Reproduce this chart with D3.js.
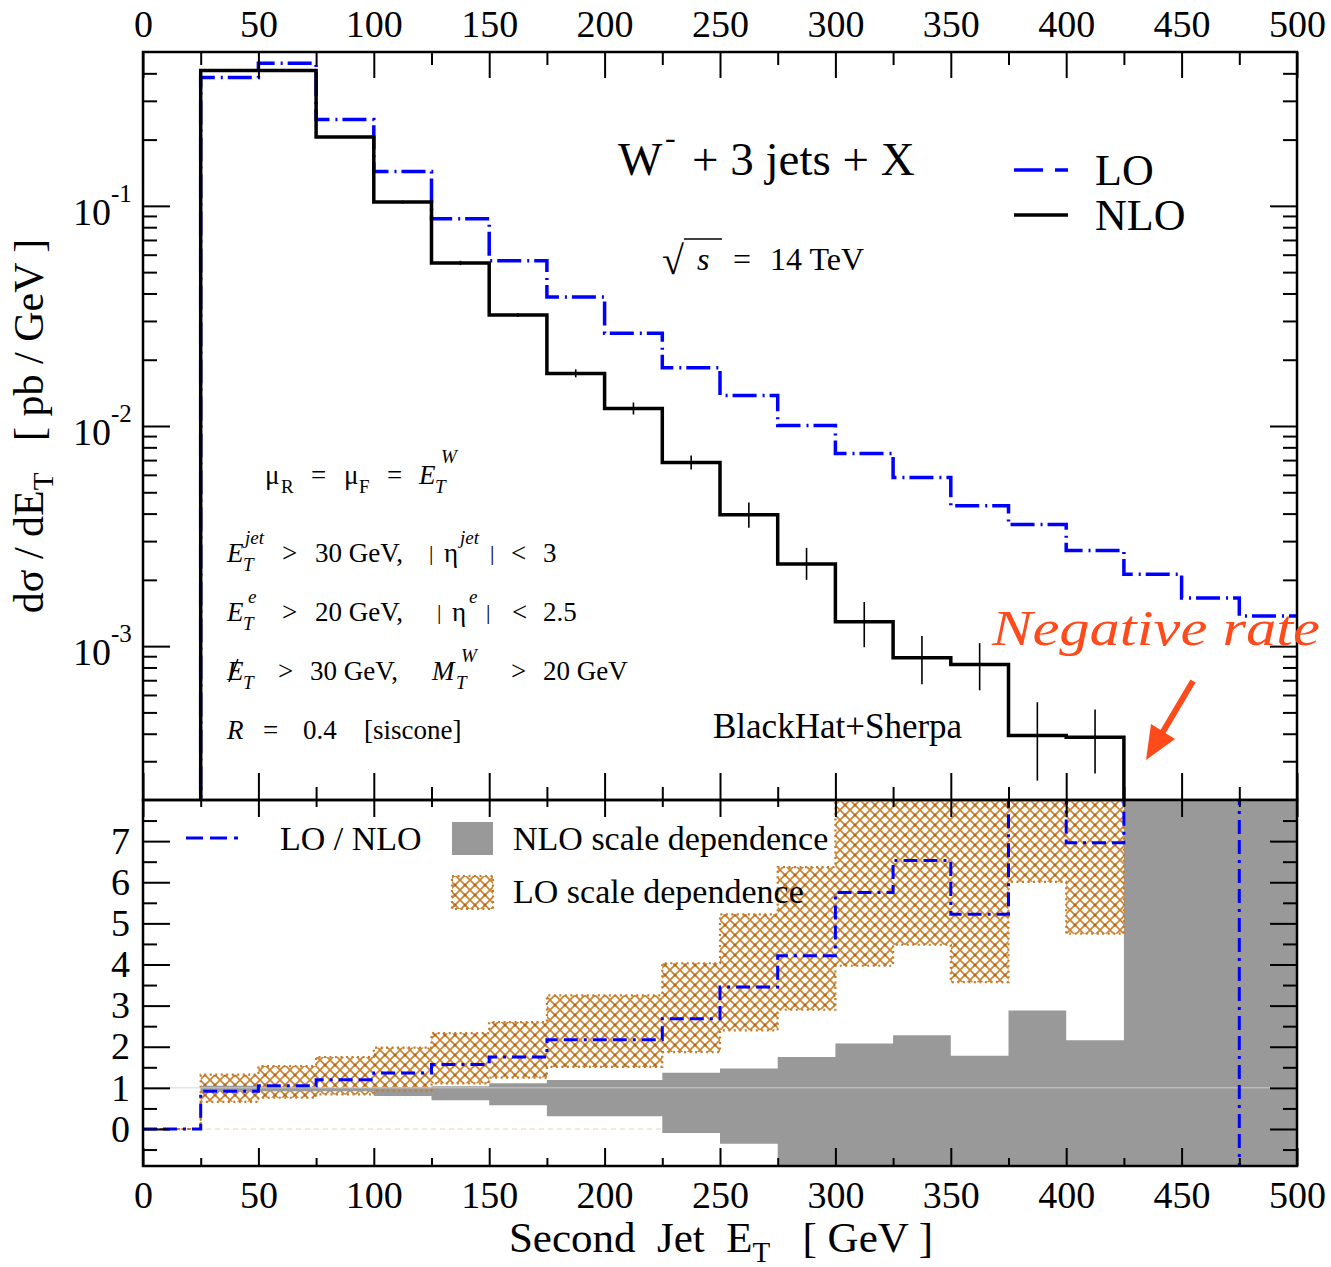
<!DOCTYPE html>
<html>
<head>
<meta charset="utf-8">
<script src="https://cdn.jsdelivr.net/npm/d3@7"></script>
<style>
body { margin: 0; background: #fff; }
svg text { font-family: "Liberation Serif", "Times New Roman", serif; fill: #000; white-space: pre; }
</style>
</head>
<body>
<svg id="chart" width="1331" height="1267"></svg>
<script>

// bin edges of the second jet ET histogram (GeV)
var binEdges = [0, 25, 50, 75, 100, 125, 150, 175, 200, 225, 250, 275, 300, 325, 350, 375, 400, 425, 450, 475, 500];

// dsigma/dET [pb/GeV], one value per bin, null = nothing drawn (zero or negative)
var nloRate = [null, 0.412, 0.412, 0.2056, 0.104, 0.0550, 0.0319, 0.01734, 0.0120, 0.00682, 0.00395,
               0.00236, 0.00129, 0.000885, 0.000825, 0.000393, 0.000386, null, null, null];
var nloErrLow  = [null, null, null, null, 0.1025, 0.0538, 0.0313, 0.01663, 0.01128, 0.00634, 0.00345,
                  0.00200, 0.000989, 0.000671, 0.000630, 0.000245, 0.000264, null, null, null];
var nloErrHigh = [null, null, null, null, 0.1056, 0.0563, 0.0325, 0.01809, 0.01280, 0.00734, 0.00449,
                  0.002795, 0.001587, 0.001111, 0.001032, 0.000556, 0.000516, null, null, null];
var loRate = [null, 0.383, 0.444, 0.2466, 0.1432, 0.0873, 0.0563, 0.0385, 0.0264, 0.0184, 0.01377,
              0.01005, 0.0075, 0.00583, 0.00434, 0.00357, 0.00272, 0.00212, 0.001655, 0.00137];

// lower panel: LO / NLO and the scale dependence bands (off-scale bins estimated past the frame)
var ratioLoNlo  = [0, 0.92, 1.05, 1.20, 1.36, 1.57, 1.75, 2.17, 2.17, 2.68, 3.45, 4.21, 5.75, 6.53, 5.22, 9.1, 6.96, 12, 12, -12];
var nloBandLow  = [0, 0.92, 0.92, 0.92, 0.80, 0.70, 0.58, 0.31, 0.31, -0.10, -0.36, -2, -2, -2, -2, -2, -2, -20, -20, -20];
var nloBandHigh = [0, 1.05, 1.03, 1.00, 1.02, 1.04, 1.11, 1.19, 1.19, 1.37, 1.47, 1.75, 2.08, 2.28, 1.78, 2.88, 2.16, 20, 20, 20];
var loBandLow   = [0, 0.66, 0.76, 0.84, 0.93, 1.11, 1.25, 1.51, 1.51, 1.87, 2.40, 2.90, 3.97, 4.48, 3.57, 6.01, 4.75, null, null, null];
var loBandHigh  = [0, 1.32, 1.53, 1.75, 1.98, 2.33, 2.60, 3.25, 3.25, 4.03, 5.22, 6.37, 9, 9, 9, 9, 9, null, null, null];

var xMajorTicks = [0, 50, 100, 150, 200, 250, 300, 350, 400, 450, 500];
var xMinorTicks = [25, 75, 125, 175, 225, 275, 325, 375, 425, 475];
var yDecades = [0.001, 0.01, 0.1];
var yMinorTicks = [0.0003, 0.0004, 0.0005, 0.0006, 0.0007, 0.0008, 0.0009,
                   0.002, 0.003, 0.004, 0.005, 0.006, 0.007, 0.008, 0.009,
                   0.02, 0.03, 0.04, 0.05, 0.06, 0.07, 0.08, 0.09,
                   0.2, 0.3, 0.4];
var ratioTicks = [0, 1, 2, 3, 4, 5, 6, 7];
var ratioMinorTicks = [-0.5, 0.5, 1.5, 2.5, 3.5, 4.5, 5.5, 6.5, 7.5];

var FLOOR = 1e-5;
var L = 143, R = 1297, T1 = 52, B1 = 800, B2 = 1166;

var svg = d3.select('#chart');
var defs = svg.append('defs');

var x = d3.scaleLinear().domain([0, 500]).range([L, R]);
var yTop = d3.scaleLog().domain([2e-4, 0.5]).range([B1, T1]);
var yBot = d3.scaleLinear().domain([-0.9, 8]).range([B2, B1]);

defs.append('clipPath').attr('id', 'clipTop')
  .append('rect').attr('x', L).attr('y', T1).attr('width', R - L).attr('height', B1 - T1);
defs.append('clipPath').attr('id', 'clipBot')
  .append('rect').attr('x', L).attr('y', B1).attr('width', R - L).attr('height', B2 - B1);

// cross hatch for LO scale band
var pat = defs.append('pattern').attr('id', 'loHatch')
  .attr('patternUnits', 'userSpaceOnUse').attr('width', 10).attr('height', 10);
pat.append('path').attr('d', 'M-1,-1L11,11M11,-1L-1,11')
  .attr('stroke', '#cc8331').attr('stroke-width', 1.7);
pat.append('circle').attr('cx', 5).attr('cy', 5).attr('r', 1.5).attr('fill', '#b5671a');

function stepSeries(values) {
  var pts = [], started = false;
  values.forEach(function(v, i) {
    if (v == null) {
      if (started) { pts.push([binEdges[i], FLOOR]); started = false; }
      return;
    }
    if (!started) { pts.push([binEdges[i], FLOOR]); started = true; }
    pts.push([binEdges[i], v]);
  });
  if (started) pts.push([binEdges[values.length], values[values.length - 1]]);
  return pts;
}

function bandSeries(lo, hi) {
  var pts = [];
  lo.forEach(function(v, i) { pts.push([binEdges[i], v, hi[i]]); });
  var last = lo.length - 1;
  while (last >= 0 && lo[last] == null) last--;
  pts.splice(last + 1, 0, [binEdges[last + 1], lo[last], hi[last]]);
  return pts;
}

// ---------------- top panel ----------------
var topG = svg.append('g');
var topPlot = topG.append('g').attr('clip-path', 'url(#clipTop)');

var lineTop = d3.line()
  .x(function(d) { return x(d[0]); })
  .y(function(d) { return yTop(d[1]); })
  .curve(d3.curveStepAfter);

topPlot.append('path').datum(stepSeries(loRate))
  .attr('d', lineTop).attr('fill', 'none')
  .attr('stroke', '#0000ff').attr('stroke-width', 3.5)
  .attr('stroke-dasharray', '24,6,2,5');

topPlot.append('path').datum(stepSeries(nloRate))
  .attr('d', lineTop).attr('fill', 'none')
  .attr('stroke', '#000').attr('stroke-width', 3.5);

var errData = [];
nloErrLow.forEach(function(v, i) {
  if (v != null) errData.push({ c: (binEdges[i] + binEdges[i + 1]) / 2, lo: v, hi: nloErrHigh[i] });
});
topPlot.selectAll('line.err').data(errData).enter().append('line')
  .attr('class', 'err')
  .attr('x1', function(d) { return x(d.c); }).attr('x2', function(d) { return x(d.c); })
  .attr('y1', function(d) { return yTop(d.lo); }).attr('y2', function(d) { return yTop(d.hi); })
  .attr('stroke', '#000').attr('stroke-width', 1.6);

function tickAxis(g, axis) {
  g.call(axis);
  g.select('.domain').remove();
  g.selectAll('.tick line').attr('stroke', '#000').attr('stroke-width', 2);
  g.selectAll('.tick text').attr('font-size', 38).attr('font-family', '"Liberation Serif", serif').attr('fill', '#000');
}

tickAxis(topG.append('g').attr('transform', 'translate(0,' + T1 + ')'),
  d3.axisTop(x).tickValues(xMajorTicks).tickSize(-26).tickPadding(15).tickFormat(d3.format('d')));
tickAxis(topG.append('g').attr('transform', 'translate(0,' + T1 + ')'),
  d3.axisTop(x).tickValues(xMinorTicks).tickSize(-13).tickFormat(''));
tickAxis(topG.append('g').attr('transform', 'translate(0,' + B1 + ')'),
  d3.axisBottom(x).tickValues(xMajorTicks).tickSize(-27).tickFormat(''));
tickAxis(topG.append('g').attr('transform', 'translate(0,' + B1 + ')'),
  d3.axisBottom(x).tickValues(xMinorTicks).tickSize(-13).tickFormat(''));
tickAxis(topG.append('g').attr('transform', 'translate(' + L + ',0)'),
  d3.axisLeft(yTop).tickValues(yDecades).tickSize(-27).tickFormat(''));
tickAxis(topG.append('g').attr('transform', 'translate(' + L + ',0)'),
  d3.axisLeft(yTop).tickValues(yMinorTicks).tickSize(-14).tickFormat(''));
tickAxis(topG.append('g').attr('transform', 'translate(' + R + ',0)'),
  d3.axisRight(yTop).tickValues(yDecades).tickSize(-27).tickFormat(''));
tickAxis(topG.append('g').attr('transform', 'translate(' + R + ',0)'),
  d3.axisRight(yTop).tickValues(yMinorTicks).tickSize(-14).tickFormat(''));

var decLab = topG.selectAll('g.declab').data(yDecades).enter().append('g').attr('class', 'declab');
decLab.append('text').attr('x', 111).attr('y', function(d) { return yTop(d) + 19; })
  .attr('text-anchor', 'end').attr('font-size', 38).text('10');
decLab.append('text').attr('x', 111).attr('y', function(d) { return yTop(d) - 4; })
  .attr('font-size', 25).text(function(d) { return '-' + Math.round(-Math.log10(d)); });

topG.append('rect').attr('x', L).attr('y', T1).attr('width', R - L).attr('height', B1 - T1)
  .attr('fill', 'none').attr('stroke', '#000').attr('stroke-width', 2.5);

// y title
var yt = svg.append('text').attr('transform', 'translate(43,426) rotate(-90)')
  .attr('text-anchor', 'middle').attr('font-size', 42);
yt.append('tspan').text('dσ / dE');
yt.append('tspan').attr('font-size', 29).attr('dy', 10).text('T');
yt.append('tspan').attr('dy', -10).text('   [ pb / GeV ]');

// annotations
function txt(xp, yp, s, size, italic) {
  return svg.append('text').attr('x', xp).attr('y', yp).attr('font-size', size)
    .attr('font-style', italic ? 'italic' : 'normal').text(s);
}

txt(618, 175, 'W', 47);
txt(665, 148, '-', 32);
txt(692, 175, '+ 3 jets + X', 47);

txt(662, 274, '√', 40);
svg.append('line').attr('x1', 684).attr('x2', 722).attr('y1', 239).attr('y2', 239)
  .attr('stroke', '#000').attr('stroke-width', 1.6);
txt(697, 270, 's', 32, true);
txt(733, 270, '=', 32);
txt(770, 270, '14 TeV', 32);

// legend top
svg.append('line').attr('x1', 1014).attr('x2', 1068).attr('y1', 170).attr('y2', 170)
  .attr('stroke', '#0000ff').attr('stroke-width', 3.5).attr('stroke-dasharray', '29,12');
svg.append('line').attr('x1', 1014).attr('x2', 1068).attr('y1', 215).attr('y2', 215)
  .attr('stroke', '#000').attr('stroke-width', 3.5);
txt(1095, 185, 'LO', 44);
txt(1095, 230, 'NLO', 44);

var fs = 27, ss = 19;
// mu_R = mu_F = E_T^W
txt(265, 484, 'μ', fs); txt(281, 493, 'R', ss);
txt(311, 484, '=', fs);
txt(344, 484, 'μ', fs); txt(359, 493, 'F', ss);
txt(387, 484, '=', fs);
txt(419, 484, 'E', fs, true); txt(435, 493, 'T', ss, true); txt(441, 463, 'W', ss, true);
// jet cuts
txt(227, 562, 'E', fs, true); txt(243, 571, 'T', ss, true); txt(245, 544, 'jet', ss, true);
txt(282, 562, '>', fs); txt(315, 562, '30 GeV,', fs);
txt(429, 560, '|', 22); txt(444, 562, 'η', fs); txt(460, 544, 'jet', ss, true);
txt(490, 560, '|', 22); txt(511, 562, '<', fs); txt(543, 562, '3', fs);
// electron cuts
txt(227, 621, 'E', fs, true); txt(243, 630, 'T', ss, true); txt(248, 603, 'e', ss, true);
txt(282, 621, '>', fs); txt(315, 621, '20 GeV,', fs);
txt(437, 619, '|', 22); txt(452, 621, 'η', fs); txt(469, 603, 'e', ss, true);
txt(486, 619, '|', 22); txt(512, 621, '<', fs); txt(543, 621, '2.5', fs);
// missing ET (E with a slash)
txt(227, 680, 'E', fs, true);
svg.append('line').attr('x1', 229).attr('y1', 682).attr('x2', 238).attr('y2', 659)
  .attr('stroke', '#000').attr('stroke-width', 1.5);
txt(243, 689, 'T', ss, true);
txt(278, 680, '>', fs); txt(310, 680, '30 GeV,', fs);
txt(432, 680, 'M', fs, true); txt(456, 689, 'T', ss, true); txt(461, 662, 'W', ss, true);
txt(511, 680, '>', fs); txt(543, 680, '20 GeV', fs);
// jet algorithm
txt(227, 739, 'R', fs, true); txt(263, 739, '=', fs); txt(303, 739, '0.4', fs); txt(364, 739, '[siscone]', fs);

txt(713, 738, 'BlackHat+Sherpa', 35);

txt(992, 645, 'Negative rate', 50, true).style('fill', '#ff4a1c')
  .attr('textLength', 328).attr('lengthAdjust', 'spacingAndGlyphs');
svg.append('line').attr('x1', 1193).attr('y1', 681).attr('x2', 1161).attr('y2', 735)
  .attr('stroke', '#ff4a1c').attr('stroke-width', 6);
svg.append('path').attr('d', 'M1146,760L1151,724L1175,739Z').attr('fill', '#ff4a1c');

// ---------------- bottom panel ----------------
var botG = svg.append('g');
var botPlot = botG.append('g').attr('clip-path', 'url(#clipBot)');

botPlot.append('line').attr('x1', L).attr('x2', R).attr('y1', yBot(0)).attr('y2', yBot(0))
  .attr('stroke', '#e6d8bc').attr('stroke-width', 1.2).attr('stroke-dasharray', '5,4');

var area = d3.area()
  .defined(function(d) { return d[1] != null; })
  .x(function(d) { return x(d[0]); })
  .y0(function(d) { return yBot(d[1]); })
  .y1(function(d) { return yBot(d[2]); })
  .curve(d3.curveStepAfter);

var loBand = bandSeries(loBandLow, loBandHigh);
botPlot.append('path').datum(loBand).attr('d', area)
  .attr('fill', 'url(#loHatch)').attr('stroke', 'none');
botPlot.append('path').datum(bandSeries(nloBandLow, nloBandHigh)).attr('d', area)
  .attr('fill', '#999999').attr('stroke', 'none');
botPlot.append('path').datum(loBand).attr('d', area)
  .attr('fill', 'none').attr('stroke', '#c47a28').attr('stroke-width', 2.2)
  .attr('stroke-dasharray', '2,3.5');

botPlot.append('line').attr('x1', L).attr('x2', R).attr('y1', yBot(1)).attr('y2', yBot(1))
  .attr('stroke', '#d4d4d4').attr('stroke-width', 1.5).attr('stroke-opacity', 0.6);

var ratioPts = ratioLoNlo.map(function(v, i) { return [binEdges[i], v]; });
ratioPts.push([binEdges[ratioLoNlo.length], ratioLoNlo[ratioLoNlo.length - 1]]);
botPlot.append('path').datum(ratioPts)
  .attr('d', d3.line().x(function(d) { return x(d[0]); }).y(function(d) { return yBot(d[1]); })
    .curve(d3.curveStepAfter))
  .attr('fill', 'none').attr('stroke', '#0000ff').attr('stroke-width', 3)
  .attr('stroke-dasharray', '14,6,14,6,3,6');

tickAxis(botG.append('g').attr('transform', 'translate(0,' + B1 + ')'),
  d3.axisTop(x).tickValues(xMajorTicks).tickSize(-17).tickFormat(''));
tickAxis(botG.append('g').attr('transform', 'translate(0,' + B1 + ')'),
  d3.axisTop(x).tickValues(xMinorTicks).tickSize(-7).tickFormat(''));
tickAxis(botG.append('g').attr('transform', 'translate(0,' + B2 + ')'),
  d3.axisBottom(x).tickValues(xMajorTicks).tickSize(-18).tickPadding(15).tickFormat(d3.format('d')));
tickAxis(botG.append('g').attr('transform', 'translate(0,' + B2 + ')'),
  d3.axisBottom(x).tickValues(xMinorTicks).tickSize(-8).tickFormat(''));
tickAxis(botG.append('g').attr('transform', 'translate(' + L + ',0)'),
  d3.axisLeft(yBot).tickValues(ratioTicks).tickSize(-27).tickPadding(13).tickFormat(d3.format('d')));
tickAxis(botG.append('g').attr('transform', 'translate(' + L + ',0)'),
  d3.axisLeft(yBot).tickValues(ratioMinorTicks).tickSize(-14).tickFormat(''));
tickAxis(botG.append('g').attr('transform', 'translate(' + R + ',0)'),
  d3.axisRight(yBot).tickValues(ratioTicks).tickSize(-27).tickFormat(''));
tickAxis(botG.append('g').attr('transform', 'translate(' + R + ',0)'),
  d3.axisRight(yBot).tickValues(ratioMinorTicks).tickSize(-14).tickFormat(''));

botG.append('rect').attr('x', L).attr('y', B1).attr('width', R - L).attr('height', B2 - B1)
  .attr('fill', 'none').attr('stroke', '#000').attr('stroke-width', 2.5);

// legend bottom
svg.append('line').attr('x1', 186).attr('x2', 240).attr('y1', 838).attr('y2', 838)
  .attr('stroke', '#0000ff').attr('stroke-width', 3).attr('stroke-dasharray', '17,7,17,7,4,7');
txt(280, 850, 'LO / NLO', 34);
svg.append('rect').attr('x', 452).attr('y', 822).attr('width', 41).attr('height', 33).attr('fill', '#999999');
txt(513, 850, 'NLO scale dependence', 34);
svg.append('rect').attr('x', 452).attr('y', 876).attr('width', 41).attr('height', 33)
  .attr('fill', 'url(#loHatch)').attr('stroke', '#c47a28').attr('stroke-width', 2.2)
  .attr('stroke-dasharray', '2,3.5');
txt(513, 903, 'LO scale dependence', 34);

// x title
var xt = svg.append('text').attr('x', 721).attr('y', 1252).attr('text-anchor', 'middle').attr('font-size', 43);
xt.append('tspan').text('Second  Jet  E');
xt.append('tspan').attr('font-size', 29).attr('dy', 10).text('T');
xt.append('tspan').attr('dy', -10).text('   [ GeV ]');

</script>
</body>
</html>
